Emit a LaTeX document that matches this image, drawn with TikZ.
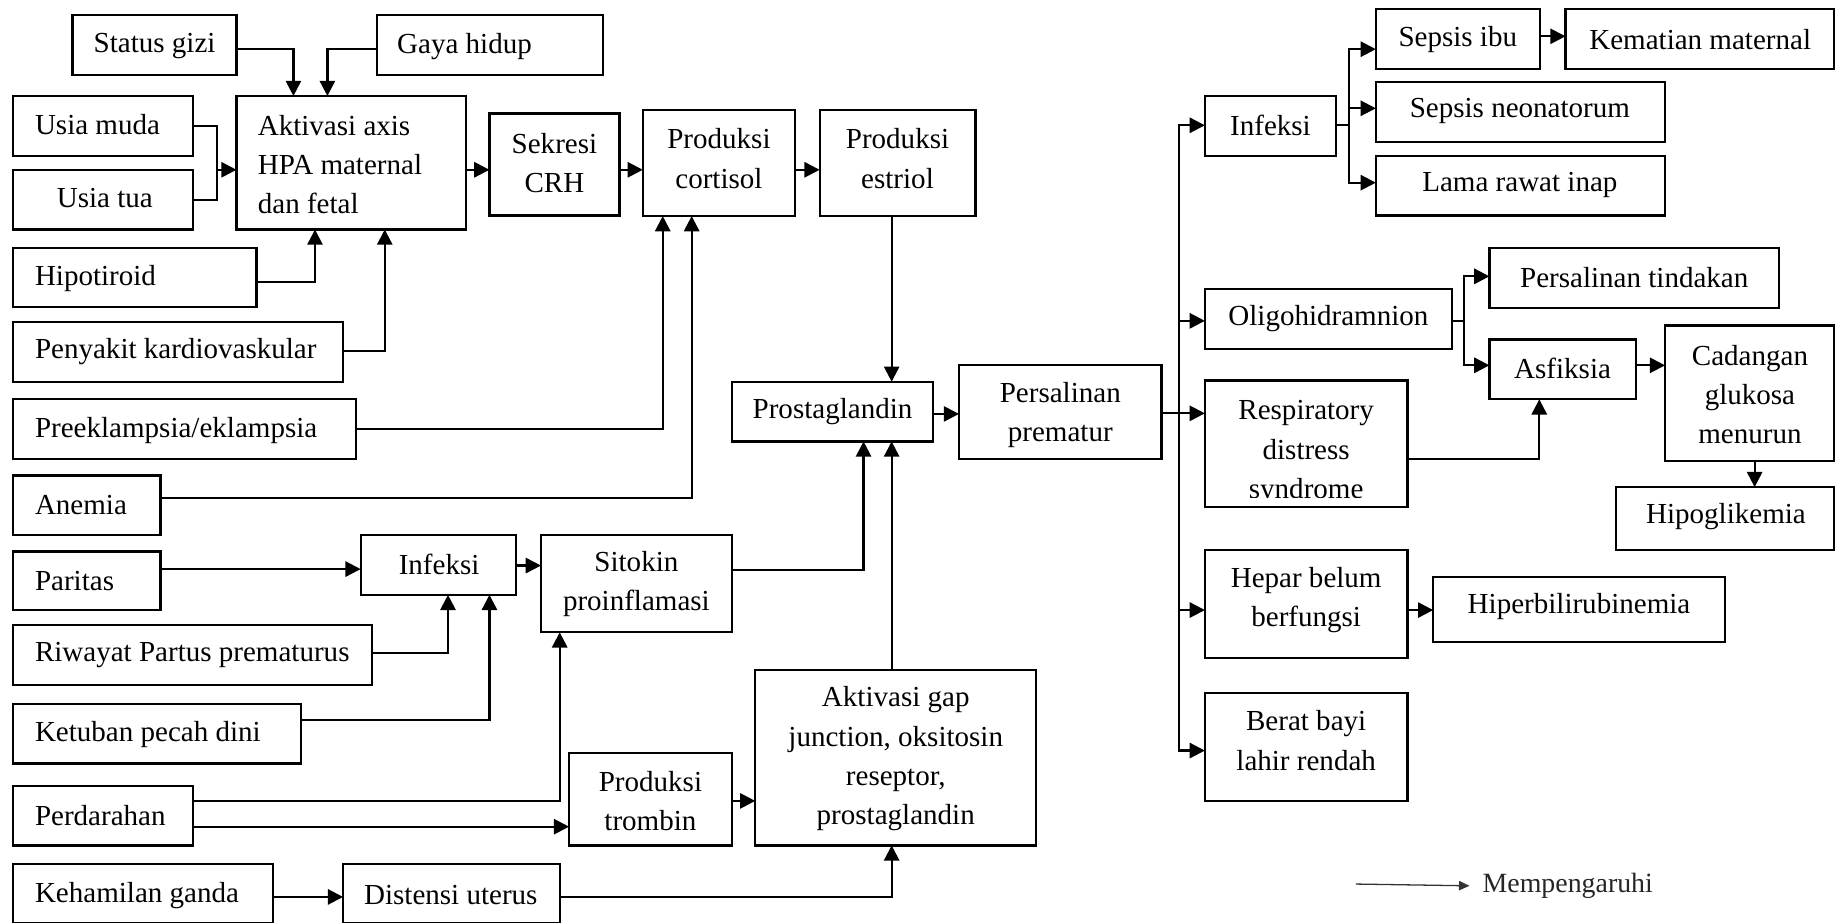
\documentclass[tikz,border=0pt]{standalone}
\usepackage{fontspec}
\setmainfont{Liberation Serif}
\usetikzlibrary{arrows.meta,fit,calc}
\begin{document}
\begin{tikzpicture}[x=1pt,y=-1pt,
  box/.style={draw, line width=1.9pt, inner sep=0pt, outer sep=0pt},
  txt/.style={inner sep=0pt, yshift=-1.5pt, font=\fontsize{24.8pt}{33.5pt}\selectfont, align=center},
  conn/.style={line width=1.9pt},
  arr/.style={line width=1.9pt, -{Triangle[length=13pt,width=13pt]}},
  legarr/.style={line width=1.1pt, black!80, -{Triangle[length=9pt,width=8pt]}},
]
\useasboundingbox (0,0) rectangle (1568,788);

% ---------- boxes ----------
\node[box, fit={(62,13) (202,64)}] (sg) {};
\node[box, fit={(322,13) (515,64)}] (gh) {};
\node[box, fit={(11,82) (165,133)}] (um) {};
\node[box, fit={(11,145) (165,196)}] (ut) {};
\node[box, fit={(202,82) (398,196)}] (ak) {};
\node[box, fit={(11,212) (219,262)}] (hp) {};
\node[box, fit={(11,275) (293,326)}] (pk) {};
\node[box, fit={(11,341) (304,392)}] (pe) {};
\node[box, fit={(11,406) (137,457)}] (an) {};
\node[box, fit={(11,471) (137,521)}] (pa) {};
\node[box, fit={(11,534) (318,585)}] (rw) {};
\node[box, fit={(11,601) (257,652)}] (kt) {};
\node[box, fit={(11,671) (165,722)}] (pd) {};
\node[box, fit={(11,738) (233,788)}] (kg) {};
\node[box, fit={(293,738) (478,788)}] (dt) {};
\node[box, fit={(418,97) (529,184)}] (sk) {};
\node[box, fit={(549,94) (679,184.5)}] (pc) {};
\node[box, fit={(700,94) (833,184.5)}] (pes) {};
\node[box, fit={(308,457) (441,508)}] (ifl) {};
\node[box, fit={(462,457) (625,540)}] (sit) {};
\node[box, fit={(486,643) (625,722)}] (pt) {};
\node[box, fit={(645,572) (885,722)}] (ag) {};
\node[box, fit={(625,326) (797,377)}] (pg) {};
\node[box, fit={(819,312) (992,392)}] (ps) {};
\node[box, fit={(1029,82) (1141,133)}] (ir) {};
\node[box, fit={(1175,8) (1315,59)}] (si) {};
\node[box, fit={(1337,8) (1566.5,59)}] (km) {};
\node[box, fit={(1175,70) (1422,121)}] (sn) {};
\node[box, fit={(1175,133) (1422,184)}] (lr) {};
\node[box, fit={(1272,212) (1519,263)}] (ptd) {};
\node[box, fit={(1029,247) (1240,298)}] (ol) {};
\node[box, fit={(1272,290) (1397,341)}] (as) {};
\node[box, fit={(1422,278) (1566.5,394)}] (cg) {};
\node[box, fit={(1029,325) (1202,433)}] (rd) {};
\node[box, fit={(1380,416) (1566.5,470)}] (hg) {};
\node[box, fit={(1029,470) (1202,562)}] (hb) {};
\node[box, fit={(1224,493) (1473,548)}] (hy) {};
\node[box, fit={(1029,592) (1202,684)}] (bb) {};

% ---------- texts ----------
\node[txt] (sg-t) at (132,38) {Status gizi};
\node[txt, anchor=west] (gh-t) at (339,38) {Gaya hidup};
\node[txt, anchor=west] (um-t) at (29.7,105) {Usia muda};
\node[txt, anchor=west] (ut-t) at (48.3,168) {Usia tua};
\node[txt, anchor=west, align=left] (ak-t) at (220,139) {Aktivasi axis\\HPA maternal\\dan fetal};
\node[txt] (sk-t) at (473.5,137.5) {Sekresi\\CRH};
\node[txt] (pc-t) at (614,134) {Produksi\\cortisol};
\node[txt] (pes-t) at (766.5,134) {Produksi\\estriol};
\node[txt, anchor=west] (hp-t) at (29.7,236) {Hipotiroid};
\node[txt, anchor=west] (pk-t) at (29.7,299) {Penyakit kardiovaskular};
\node[txt, anchor=west] (pe-t) at (29.7,366) {Preeklampsia/eklampsia};
\node[txt, anchor=west] (an-t) at (29.7,430) {Anemia};
\node[txt, anchor=west] (pa-t) at (29.7,494.5) {Paritas};
\node[txt, anchor=west] (rw-t) at (29.7,558) {Riwayat Partus prematurus};
\node[txt, anchor=west] (kt-t) at (29.7,626) {Ketuban pecah dini};
\node[txt, anchor=west] (pd-t) at (29.7,695) {Perdarahan};
\node[txt, anchor=west] (kg-t) at (29.7,763) {Kehamilan ganda};
\node[txt] (dt-t) at (385,763) {Distensi uterus};
\node[txt] (ifl-t) at (375,480.6) {Infeksi};
\node[txt] (sit-t) at (543.5,497) {Sitokin\\proinflamasi};
\node[txt] (pt-t) at (555.5,682.5) {Produksi\\trombin};
\node[txt] (ag-t) at (765,646.5) {Aktivasi gap\\junction, oksitosin\\reseptor,\\prostaglandin};
\node[txt] (pg-t) at (711,349.6) {Prostaglandin};
\node[txt] (ps-t) at (905.5,353) {Persalinan\\prematur};
\node[txt] (ir-t) at (1085,106) {Infeksi};
\node[txt] (si-t) at (1245,32) {Sepsis ibu};
\node[txt] (km-t) at (1452,32) {Kematian maternal};
\node[txt] (sn-t) at (1298,93.4) {Sepsis neonatorum};
\node[txt] (lr-t) at (1298,156.6) {Lama rawat inap};
\node[txt] (ptd-t) at (1395.7,235.7) {Persalinan tindakan};
\node[txt] (ol-t) at (1134.5,270.5) {Oligohidramnion};
\node[txt] (as-t) at (1334.5,313) {Asfiksia};
\node[txt] (cg-t) at (1494.5,335.5) {Cadangan\\glukosa\\menurun};
\begin{scope}
  \clip (rd.north west) rectangle ($(rd.south east)+(0,-8)$);
  \node[txt] (rd-t) at (1115.5,385) {Respiratory\\distress\\syndrome};
\end{scope}
\node[txt] (hg-t) at (1474,440) {Hipoglikemia};
\node[txt] (hb-t) at (1115.5,511) {Hepar belum\\berfungsi};
\node[txt] (hy-t) at (1348.5,516.6) {Hiperbilirubinemia};
\node[txt] (bb-t) at (1115.5,631) {Berat bayi\\lahir rendah};

% ---------- connectors: left part ----------
\draw[arr] (sg.east |- 0,42) -| (ak.north -| 250.6,0);
\draw[arr] (gh.west |- 0,42) -| (ak.north -| 279.6,0);
\coordinate (jUT) at (185,145);
\draw[conn] (um.east) -| (jUT) |- (ut.east);
\draw[arr] (jUT) -- (ak.west |- jUT);
\draw[arr] (ak.east |- 0,145) -- (sk.west |- 0,145);
\draw[arr] (sk.east |- 0,145) -- (pc.west |- 0,145);
\draw[arr] (pc.east |- 0,145) -- (pes.west |- 0,145);
\draw[arr] (hp.east |- 0,240.6) -| (ak.south -| 269,0);
\draw[arr] (pk.east |- 0,299.5) -| (ak.south -| 328.6,0);
\draw[arr] (pe.east |- 0,366.5) -| (pc.south -| 566,0);
\draw[arr] (an.east |- 0,425) -| (pc.south -| 590.7,0);
\draw[arr] (pes.south -| 761.5,0) -- (pg.north -| 761.5,0);
\draw[arr] (pg.east |- 0,353.5) -- (ps.west |- 0,353.5);

\draw[arr] (pa.east |- 0,486) -- (ifl.west |- 0,486);
\draw[arr] (rw.east |- 0,558) -| (ifl.south -| 382.6,0);
\draw[arr] (kt.east |- 0,615) -| (ifl.south -| 418,0);
\draw[arr] (ifl.east |- 0,483) -- (sit.west |- 0,483);
\draw[arr] (pd.east |- 0,684) -| (sit.south -| 478,0);
\draw[arr] (pd.east |- 0,706) -- (pt.west |- 0,706);
\draw[arr] (kg.east |- 0,766) -- (dt.west |- 0,766);
\draw[arr] (dt.east |- 0,766) -| (ag.south -| 761.5,0);
\draw[arr] (pt.east |- 0,684) -- (ag.west |- 0,684);
\draw[arr] (ag.north -| 761.5,0) -- (pg.south -| 761.5,0);
\draw[arr] (sit.east |- 0,487) -| (pg.south -| 737.5,0);

% ---------- connectors: right part ----------
\coordinate (tr) at (1007,353);
\draw[conn] (ps.east |- tr) -- (tr);
\draw[arr] (tr) |- (ir.west |- 0,107);
\draw[arr] (tr) |- (ol.west |- 0,274);
\draw[arr] (tr) -- (rd.west |- tr);
\draw[arr] (tr) |- (hb.west |- 0,521);
\draw[arr] (tr) |- (bb.west |- 0,641);

\coordinate (tr2) at (1152,107);
\draw[conn] (ir.east |- tr2) -- (tr2);
\draw[arr] (tr2) |- (si.west |- 0,42);
\draw[arr] (tr2) |- (sn.west |- 0,92.5);
\draw[arr] (tr2) |- (lr.west |- 0,156);
\draw[arr] (si.east |- 0,31) -- (km.west |- 0,31);

\coordinate (tr3) at (1250,274);
\draw[conn] (ol.east |- tr3) -- (tr3);
\draw[arr] (tr3) |- (ptd.west |- 0,236);
\draw[arr] (tr3) |- (as.west |- 0,312);
\draw[arr] (as.east |- 0,312) -- (cg.west |- 0,312);
\draw[arr] (rd.east |- 0,392) -| (as.south -| 1314.6,0);
\draw[arr] (cg.south -| 1498.5,0) -- (hg.north -| 1498.5,0);
\draw[arr] (hb.east |- 0,521) -- (hy.west |- 0,521);

% ---------- legend ----------
\coordinate (lg) at (1158,755);
\node[txt, anchor=west, inner xsep=11pt, text=black!85, font=\fontsize{23.8pt}{28pt}\selectfont] (lgt) at (1255,755) {Mempengaruhi};
\draw[legarr] (lg) -- (lgt.west);
\end{tikzpicture}
\end{document}
